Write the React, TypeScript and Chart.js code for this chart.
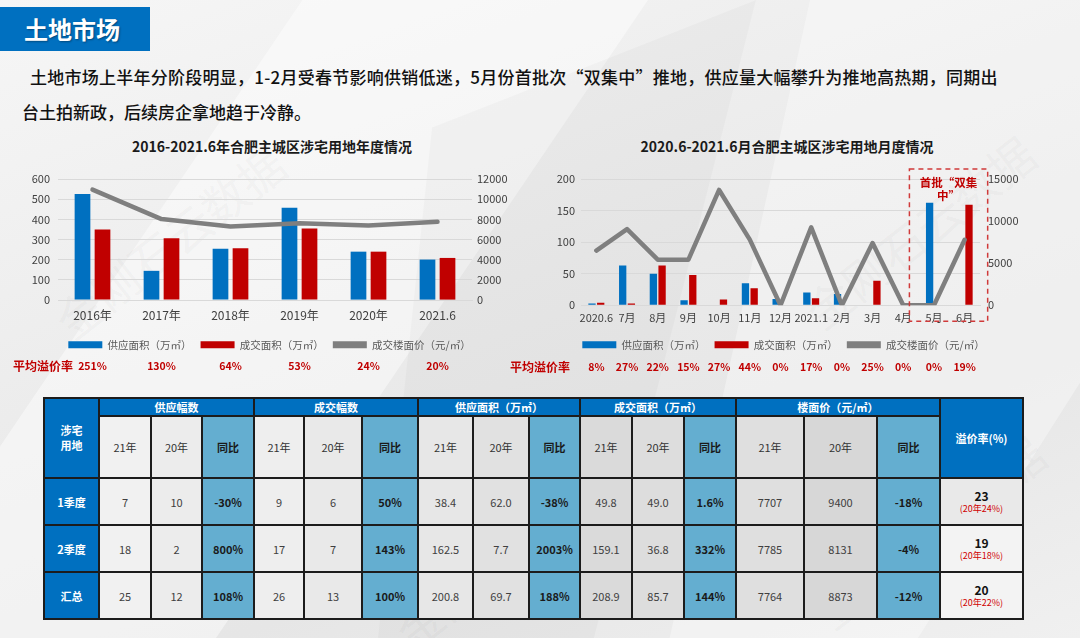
import React, { useEffect, useRef } from 'react';
import { Chart, registerables } from 'chart.js';

Chart.register(...registerables);

const FONT = '"Noto Sans CJK SC", "Noto Sans", sans-serif';

// ---------- Data: annual chart ----------
const annualCategories = ['2016年', '2017年', '2018年', '2019年', '2020年', '2021.6'];
const annualSupply = [526, 145, 254, 457, 240, 200.8];
const annualDeal = [350, 306, 257, 355, 240, 208.9];
const annualPrice = [10950, 8030, 7300, 7620, 7400, 7764];
const annualPremium = ['251%', '130%', '64%', '53%', '24%', '20%'];
const annualLeftTicks = [0, 600, 100];
const annualRightTicks = [0, 12000, 2000];

// ---------- Data: monthly chart ----------
const monthlyCategories = ['2020.6', '7月', '8月', '9月', '10月', '11月', '12月', '2021.1', '2月', '3月', '4月', '5月', '6月'];
const monthlySupply = [3, 63, 50, 8, 0, 35, 10, 20.4, 18, 0, 0, 162.5, 0];
const monthlyDeal = [4, 3, 63, 48, 9, 27, 0, 11, 0, 38.8, 0, 0, 159.1];
const monthlyPrice = [6500, 9050, 5420, 5420, 13700, 7800, 0, 9250, 0, 7400, 0, 0, 7785];
const monthlyPremium = ['8%', '27%', '22%', '15%', '27%', '44%', '0%', '17%', '0%', '25%', '0%', '0%', '19%'];
const monthlyLeftTicks = [0, 200, 50];
const monthlyRightTicks = [0, 15000, 5000];
const highlightRange = [11, 12];
const highlightText = ['首批“双集', '中”'];

const seriesNames = ['供应面积（万㎡）', '成交面积（万㎡）', '成交楼面价（元/㎡）'];
const premiumLabel = '平均溢价率';

// ---------- Data: table ----------
const tableCorner = ['涉宅', '用地'];
const tableGroups = ['供应幅数', '成交幅数', '供应面积（万㎡）', '成交面积（万㎡）', '楼面价（元/㎡）'];
const tableSubHeads = ['21年', '20年', '同比'];
const tablePremiumHead = '溢价率(%)';
const tableRowLabels = ['1季度', '2季度', '汇总'];
const supplyCount21 = ['7', '18', '25'];
const supplyCount20 = ['10', '2', '12'];
const supplyCountYoY = ['-30%', '800%', '108%'];
const dealCount21 = ['9', '17', '26'];
const dealCount20 = ['6', '7', '13'];
const dealCountYoY = ['50%', '143%', '100%'];
const supplyArea21 = ['38.4', '162.5', '200.8'];
const supplyArea20 = ['62.0', '7.7', '69.7'];
const supplyAreaYoY = ['-38%', '2003%', '188%'];
const dealArea21 = ['49.8', '159.1', '208.9'];
const dealArea20 = ['49.0', '36.8', '85.7'];
const dealAreaYoY = ['1.6%', '332%', '144%'];
const price21 = ['7707', '7785', '7764'];
const price20 = ['9400', '8131', '8873'];
const priceYoY = ['-18%', '-4%', '-12%'];
const premiumNow = ['23', '19', '20'];
const premiumPrev = ['(20年24%)', '(20年18%)', '(20年22%)'];

const BLUE = '#0070C0';
const RED = '#C00000';
const GRAY = '#7f7f7f';

function makePremiumPlugin(values: string[], labelX: number, y: number) {
  return {
    id: 'premiumRow',
    afterDraw(chart: any) {
      const ctx = chart.ctx;
      const xs = chart.scales.x;
      ctx.save();
      ctx.fillStyle = '#C00000';
      ctx.textBaseline = 'middle';
      ctx.textAlign = 'left';
      ctx.font = `bold 12px ${FONT}`;
      ctx.fillText(premiumLabel, labelX, y);
      ctx.font = `bold 10.5px ${FONT}`;
      ctx.textAlign = 'center';
      values.forEach((v, i) => ctx.fillText(v, xs.getPixelForValue(i), y));
      ctx.restore();
    },
  };
}

const highlightPlugin = {
  id: 'highlightBox',
  afterDraw(chart: any) {
    const ctx = chart.ctx;
    const xs = chart.scales.x;
    const area = chart.chartArea;
    const step = xs.getPixelForValue(1) - xs.getPixelForValue(0);
    const left = xs.getPixelForValue(highlightRange[0]) - step * 0.8;
    const right = xs.getPixelForValue(highlightRange[1]) + step * 0.75;
    const top = area.top - 10;
    const bottom = area.bottom + 16;
    ctx.save();
    ctx.strokeStyle = '#d03a3a';
    ctx.lineWidth = 1.5;
    ctx.setLineDash([5, 4]);
    ctx.strokeRect(left, top, right - left, bottom - top);
    ctx.setLineDash([]);
    ctx.fillStyle = '#C00000';
    ctx.font = `bold 11.5px ${FONT}`;
    ctx.textAlign = 'center';
    ctx.textBaseline = 'middle';
    const cx = (left + right) / 2;
    ctx.fillText(highlightText[0], cx, top + 14);
    ctx.fillText(highlightText[1], cx, top + 27);
    ctx.restore();
  },
};

function legendOptions() {
  return {
    position: 'bottom' as const,
    labels: {
      boxWidth: 34,
      boxHeight: 7,
      padding: 9,
      color: '#595959',
      font: { family: FONT, size: 10.5 },
      sort: (a: any, b: any) => a.datasetIndex - b.datasetIndex,
      generateLabels: (chart: any) => {
        const items = Chart.defaults.plugins.legend.labels.generateLabels(chart);
        return items.map((it: any) => ({ ...it, lineWidth: 0, lineDash: [], strokeStyle: it.fillStyle }));
      },
    },
  };
}

function buildConfig(opts: {
  categories: string[];
  supply: number[];
  deal: number[];
  price: number[];
  leftTicks: number[];
  rightTicks: number[];
  catPct: number;
  barPct: number;
  leftWidth: number;
  rightWidth: number;
  padLeft: number;
  xFont: number;
  xPad: number;
  leftPad: number;
  rightPad: number;
  plugins: any[];
}): any {
  return {
    type: 'bar',
    data: {
      labels: opts.categories,
      datasets: [
        {
          type: 'bar',
          label: seriesNames[0],
          data: opts.supply,
          backgroundColor: BLUE,
          yAxisID: 'y',
          order: 1,
          categoryPercentage: opts.catPct,
          barPercentage: opts.barPct,
        },
        {
          type: 'bar',
          label: seriesNames[1],
          data: opts.deal,
          backgroundColor: RED,
          yAxisID: 'y',
          order: 2,
          categoryPercentage: opts.catPct,
          barPercentage: opts.barPct,
        },
        {
          type: 'line',
          label: seriesNames[2],
          data: opts.price,
          borderColor: GRAY,
          backgroundColor: GRAY,
          borderWidth: 4.5,
          pointRadius: 0,
          tension: 0,
          borderCapStyle: 'round',
          borderJoinStyle: 'round',
          yAxisID: 'y1',
          order: 0,
        },
      ],
    },
    options: {
      responsive: false,
      animation: false,
      layout: { padding: { top: 19, left: opts.padLeft, right: 0, bottom: 22 } },
      plugins: {
        legend: legendOptions(),
        tooltip: { enabled: false },
        title: { display: false },
      },
      scales: {
        x: {
          grid: { display: false, drawTicks: false },
          border: { color: '#d9d9d9', width: 1 },
          ticks: { color: '#404040', font: { family: FONT, size: opts.xFont }, padding: opts.xPad, maxRotation: 0, autoSkip: false },
        },
        y: {
          position: 'left',
          min: opts.leftTicks[0],
          max: opts.leftTicks[1],
          ticks: {
            stepSize: opts.leftTicks[2],
            color: '#404040',
            font: { family: FONT, size: 11 },
            padding: opts.leftPad,
            callback: (v: any) => String(v),
          },
          grid: { color: '#d9d9d9', lineWidth: 1, drawTicks: false },
          border: { display: false },
          afterFit: (s: any) => {
            s.width = opts.leftWidth;
          },
        },
        y1: {
          position: 'right',
          min: opts.rightTicks[0],
          max: opts.rightTicks[1],
          ticks: {
            stepSize: opts.rightTicks[2],
            color: '#404040',
            font: { family: FONT, size: 11 },
            padding: opts.rightPad,
            callback: (v: any) => String(v),
          },
          grid: { display: false, drawTicks: false },
          border: { display: false },
          afterFit: (s: any) => {
            s.width = opts.rightWidth;
          },
        },
      },
    },
    plugins: opts.plugins,
  };
}

function AnnualChart() {
  const ref = useRef<HTMLCanvasElement>(null);
  useEffect(() => {
    if (!ref.current) return;
    const chart = new Chart(
      ref.current,
      buildConfig({
        categories: annualCategories,
        supply: annualSupply,
        deal: annualDeal,
        price: annualPrice,
        leftTicks: annualLeftTicks,
        rightTicks: annualRightTicks,
        catPct: 0.58,
        barPct: 0.785,
        padLeft: 24,
        leftWidth: 34,
        rightWidth: 43,
        xFont: 12,
        xPad: 8,
        leftPad: 8,
        rightPad: 5,
        plugins: [makePremiumPlugin(annualPremium, 13, 206)],
      })
    );
    return () => chart.destroy();
  }, []);
  return <canvas ref={ref} width={515} height={222} style={{ width: 515, height: 222, display: 'block' }} />;
}

function MonthlyChart() {
  const ref = useRef<HTMLCanvasElement>(null);
  useEffect(() => {
    if (!ref.current) return;
    const chart = new Chart(
      ref.current,
      buildConfig({
        categories: monthlyCategories,
        supply: monthlySupply,
        deal: monthlyDeal,
        price: monthlyPrice,
        leftTicks: monthlyLeftTicks,
        rightTicks: monthlyRightTicks,
        catPct: 0.567,
        barPct: 0.84,
        padLeft: 22,
        leftWidth: 59,
        rightWidth: 65,
        xFont: 11,
        xPad: 6,
        leftPad: 6,
        rightPad: 8,
        plugins: [makePremiumPlugin(monthlyPremium, 10, 207), highlightPlugin],
      })
    );
    return () => chart.destroy();
  }, []);
  return <canvas ref={ref} width={545} height={222} style={{ width: 545, height: 222, display: 'block' }} />;
}

// ---------- Table ----------
const colW = [53, 50, 49, 50, 48, 56, 54, 53, 54, 49, 50, 50, 50, 66, 71, 61, 81];
const rowH = [16, 60, 45, 45, 45];
const grayShades = [
  ['#f1f1f1', '#ececec'],
  ['#eeeeee', '#e9e9e9'],
  ['#e7e7e7', '#e1e1e1'],
  ['#dadada', '#dddddd'],
  ['#dfdfdf', '#d7d7d7'],
];
const YOY_BG = '#64AED0';

function DataTable() {
  const groupsData = [
    [supplyCount21, supplyCount20, supplyCountYoY],
    [dealCount21, dealCount20, dealCountYoY],
    [supplyArea21, supplyArea20, supplyAreaYoY],
    [dealArea21, dealArea20, dealAreaYoY],
    [price21, price20, priceYoY],
  ];
  const cells: React.ReactNode[] = [];
  const base: React.CSSProperties = {
    display: 'flex',
    alignItems: 'center',
    justifyContent: 'center',
    textAlign: 'center',
    fontSize: 11,
  };
  cells.push(
    <div key="corner" style={{ ...base, gridColumn: '1', gridRow: '1 / span 2', background: BLUE, color: '#fff', fontWeight: 700, flexDirection: 'column', lineHeight: '15px' }}>
      <span>{tableCorner[0]}</span>
      <span>{tableCorner[1]}</span>
    </div>
  );
  tableGroups.forEach((g, gi) => {
    cells.push(
      <div key={'g' + gi} style={{ ...base, gridColumn: `${2 + gi * 3} / span 3`, gridRow: '1', background: BLUE, color: '#fff', fontWeight: 700 }}>
        {g}
      </div>
    );
    tableSubHeads.forEach((s, si) => {
      const isYoy = si === 2;
      cells.push(
        <div
          key={'s' + gi + si}
          style={{
            ...base,
            gridColumn: `${2 + gi * 3 + si}`,
            gridRow: '2',
            background: isYoy ? YOY_BG : grayShades[gi][si],
            color: isYoy ? '#1a1a1a' : '#333',
            fontWeight: isYoy ? 700 : 400,
          }}
        >
          {s}
        </div>
      );
    });
  });
  cells.push(
    <div key="ph" style={{ ...base, gridColumn: '17', gridRow: '1 / span 2', background: BLUE, color: '#fff', fontWeight: 700 }}>
      {tablePremiumHead}
    </div>
  );
  tableRowLabels.forEach((r, ri) => {
    cells.push(
      <div key={'r' + ri} style={{ ...base, gridColumn: '1', gridRow: `${3 + ri}`, background: BLUE, color: '#fff', fontWeight: 700 }}>
        {r}
      </div>
    );
    groupsData.forEach((gd, gi) => {
      gd.forEach((col, si) => {
        const isYoy = si === 2;
        cells.push(
          <div
            key={'c' + ri + gi + si}
            style={{
              ...base,
              gridColumn: `${2 + gi * 3 + si}`,
              gridRow: `${3 + ri}`,
              background: isYoy ? YOY_BG : grayShades[gi][si],
              color: isYoy ? '#1a1a1a' : '#404040',
              fontWeight: isYoy ? 700 : 400,
            }}
          >
            {col[ri]}
          </div>
        );
      });
    });
    cells.push(
      <div key={'p' + ri} style={{ ...base, gridColumn: '17', gridRow: `${3 + ri}`, background: ri === 0 ? '#e9e9e9' : '#f3f3f3', flexDirection: 'column', lineHeight: '13px' }}>
        <span style={{ fontWeight: 700, color: '#111', fontSize: 12 }}>{premiumNow[ri]}</span>
        <span style={{ color: '#d00000', fontSize: 9 }}>{premiumPrev[ri]}</span>
      </div>
    );
  });
  return (
    <div
      style={{
        position: 'absolute',
        left: 43,
        top: 397,
        display: 'grid',
        gridTemplateColumns: colW.map((w) => w + 'px').join(' '),
        gridTemplateRows: rowH.map((h) => h + 'px').join(' '),
        gap: 2,
        padding: 2,
        background: '#1c1c1c',
        fontFamily: FONT,
      }}
    >
      {cells}
    </div>
  );
}

const watermarks = [
  { x: 40, y: 160 },
  { x: 790, y: 150 },
  { x: 380, y: 470 },
  { x: 800, y: 450 },
];

export default function App() {
  return (
    <div
      style={{
        position: 'fixed',
        left: 0,
        top: 0,
        width: 1080,
        height: 638,
        overflow: 'hidden',
        fontFamily: FONT,
        background: 'linear-gradient(160deg, #f6f6f6 0%, #ebebeb 45%, #e6e6e6 70%, #f0f0f0 100%)',
      }}
    >
      <div style={{ position: 'absolute', inset: 0, background: 'rgba(255,255,255,0.45)', clipPath: 'polygon(28% 0, 60% 0, 20% 100%, 0 100%, 0 70%)' }} />
      <div style={{ position: 'absolute', inset: 0, background: 'rgba(255,255,255,0.35)', clipPath: 'polygon(75% 0, 100% 0, 100% 60%, 85% 100%, 62% 100%)' }} />
      <div style={{ position: 'absolute', inset: 0, background: 'rgba(0,0,0,0.025)', clipPath: 'polygon(40% 20%, 70% 0, 55% 100%, 35% 100%)' }} />
      {watermarks.map((w, i) => (
        <div
          key={i}
          style={{
            position: 'absolute',
            left: w.x,
            top: w.y,
            fontSize: 46,
            color: 'rgba(90,90,90,0.055)',
            transform: 'rotate(-38deg)',
            transformOrigin: 'left top',
            whiteSpace: 'nowrap',
            translate: '0 140px',
          }}
        >
          金刚石云数据
        </div>
      ))}
      <div
        style={{
          position: 'absolute',
          left: 0,
          top: 7,
          width: 150,
          height: 44,
          background: BLUE,
          color: '#fff',
          fontSize: 24,
          fontWeight: 700,
          lineHeight: '44px',
          paddingLeft: 24,
          boxSizing: 'border-box',
          textShadow: '1px 1px 2px rgba(0,0,0,0.35)',
        }}
      >
        土地市场
      </div>
      <div style={{ position: 'absolute', left: 30, top: 65, fontSize: 17, lineHeight: '24px', color: '#111', fontWeight: 500, whiteSpace: 'nowrap', letterSpacing: 0.25 }}>
        土地市场上半年分阶段明显，1-2月受春节影响供销低迷，5月份首批次“双集中”推地，供应量大幅攀升为推地高热期，同期出
      </div>
      <div style={{ position: 'absolute', left: 22, top: 100, fontSize: 17, lineHeight: '24px', color: '#111', fontWeight: 500, whiteSpace: 'nowrap' }}>
        台土拍新政，后续房企拿地趋于冷静。
      </div>
      <div style={{ position: 'absolute', left: 72, width: 400, top: 136, textAlign: 'center', fontSize: 14, fontWeight: 700, color: '#1a1a1a', lineHeight: '20px' }}>
        2016-2021.6年合肥主城区涉宅用地年度情况
      </div>
      <div style={{ position: 'absolute', left: 587, width: 400, top: 136, textAlign: 'center', fontSize: 14, fontWeight: 700, color: '#1a1a1a', lineHeight: '20px' }}>
        2020.6-2021.6月合肥主城区涉宅用地月度情况
      </div>
      <div style={{ position: 'absolute', left: 0, top: 160 }}>
        <AnnualChart />
      </div>
      <div style={{ position: 'absolute', left: 500, top: 160 }}>
        <MonthlyChart />
      </div>
      <DataTable />
    </div>
  );
}
